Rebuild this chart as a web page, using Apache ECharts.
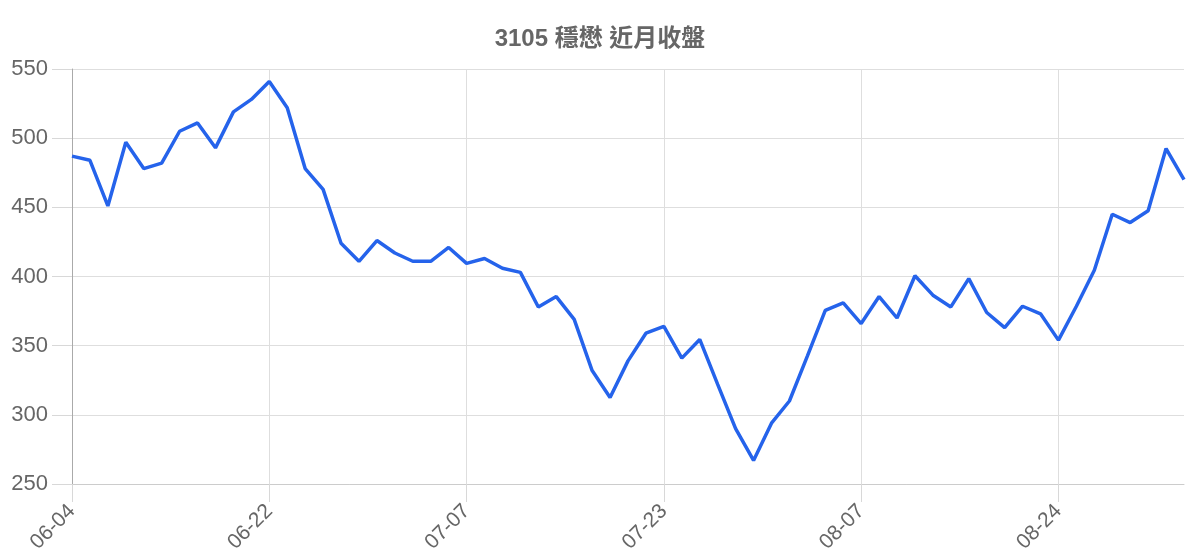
<!DOCTYPE html>
<html>
<head>
<meta charset="utf-8">
<style>
html,body{margin:0;padding:0;background:#fff;}
#chart{width:1200px;height:560px;}
</style>
<script src="https://cdn.jsdelivr.net/npm/echarts/dist/echarts.min.js"></script>
</head>
<body>
<div id="chart"></div>
<script>
const chartTitle = '3105 穩懋 近月收盤';
const dates = [
  '06-04','06-07','06-08','06-09','06-10','06-11','06-15','06-16','06-17','06-18','06-21',
  '06-22','06-23','06-24','06-25','06-28','06-29','06-30','07-01','07-02','07-05','07-06',
  '07-07','07-08','07-09','07-12','07-13','07-14','07-15','07-16','07-20','07-21','07-22',
  '07-23','07-26','07-27','07-28','07-29','07-30','08-02','08-03','08-04','08-05','08-06',
  '08-07','08-09','08-10','08-11','08-12','08-16','08-17','08-18','08-19','08-20','08-23',
  '08-24','08-25','08-26','08-27','08-30','08-31','09-01','09-02'
];
const closes = [
  487, 484, 451, 497, 478, 482, 505, 511, 493, 519, 528,
  541, 522, 478, 463, 424, 411, 426, 417, 411, 411, 421,
  409.5, 413, 406, 403, 378, 385.5, 369, 332, 312.5, 339, 359,
  364, 341, 354.5, 322, 290, 267, 294, 310, 342.5, 375.5, 381,
  366, 385.5, 370, 400.5, 386.5, 378, 398.5, 374, 363, 378.5, 373,
  354, 378.5, 404.5, 445, 439, 447.5, 492.5, 470
];
const yMin = 250, yMax = 550, yStep = 50;

const chart = echarts.init(document.getElementById('chart'), null, {renderer: 'canvas'});
const font = '"Liberation Sans", Arial, "Noto Sans CJK TC", sans-serif';
chart.setOption({
  animation: false,
  backgroundColor: '#ffffff',
  title: {
    text: chartTitle,
    left: 'center',
    top: 22,
    textStyle: {color: '#666666', fontSize: 24, fontWeight: 'bold', fontFamily: font}
  },
  grid: {left: 72, right: 16, top: 69, bottom: 76, containLabel: false},
  xAxis: {
    type: 'category',
    data: dates,
    boundaryGap: false,
    axisLine: {show: true, lineStyle: {color: '#cccccc', width: 1}},
    axisTick: {show: true, interval: 10, length: 18, lineStyle: {color: '#d8d8d8', width: 1}},
    axisLabel: {interval: 10, rotate: 45, fontSize: 21, color: '#666666', margin: 24, fontFamily: font},
    splitLine: {show: true, interval: 10, lineStyle: {color: '#dedede', width: 1}}
  },
  yAxis: {
    type: 'value',
    min: yMin, max: yMax, interval: yStep,
    axisLine: {show: true, lineStyle: {color: '#aaaaaa', width: 1}},
    axisTick: {show: true, length: 20, lineStyle: {color: '#d8d8d8', width: 1}},
    axisLabel: {fontSize: 22, color: '#666666', margin: 24, fontFamily: font},
    splitLine: {show: true, lineStyle: {color: '#dedede', width: 1}}
  },
  series: [{
    type: 'line',
    data: closes,
    showSymbol: false,
    symbol: 'none',
    lineStyle: {color: '#2563eb', width: 3.5},
    itemStyle: {color: '#2563eb'}
  }]
});
</script>
</body>
</html>
